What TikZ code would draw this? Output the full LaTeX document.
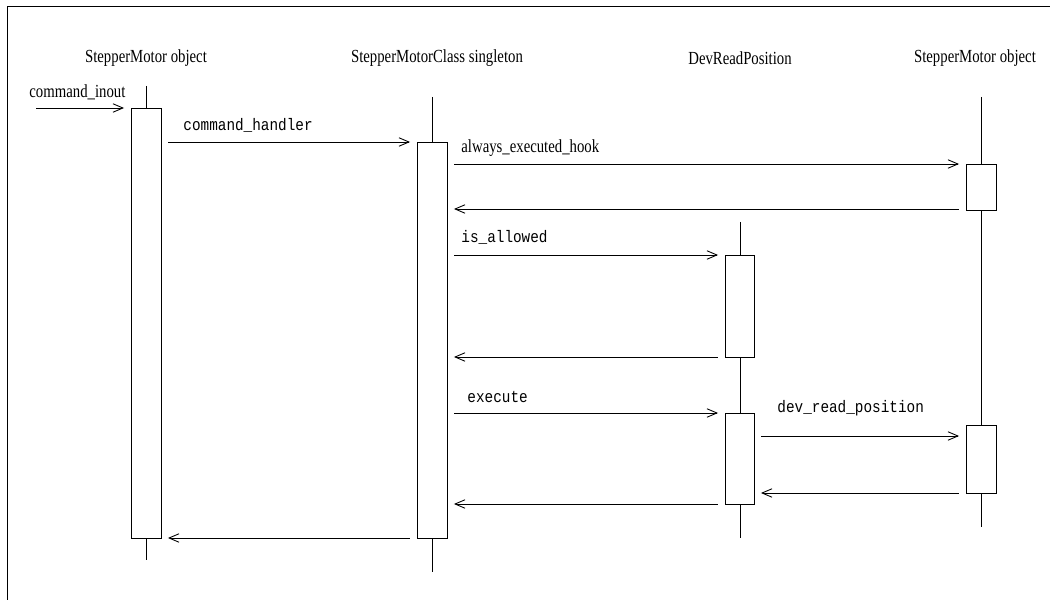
\documentclass[tikz,border=0pt]{standalone}
\usepackage{fontspec}
\setmainfont[FakeStretch=0.8]{Liberation Serif}
\setmonofont[FakeStretch=0.86]{Liberation Mono}
\usetikzlibrary{arrows.meta,fit}

\begin{document}
\begin{tikzpicture}[x=0.2mm,y=-0.2mm,line width=0.5pt,
    >={Straight Barb[length=2mm,width=1.7mm]},
    act/.style={draw,fill=white,inner sep=0pt},
    msg/.style={->,shorten <=1.4mm,shorten >=1.3mm},
    obj/.style={inner sep=0pt,font=\fontsize{10.5}{12}\selectfont},
    lbl/.style={anchor=west,inner sep=0pt,font=\fontsize{10.5}{12}\selectfont},
    code/.style={anchor=west,inner sep=0pt,font=\ttfamily\fontsize{9.5}{11}\selectfont}]
    \useasboundingbox (0,0) rectangle (1050,600);
    % frame
    \draw (1060,6) -- (7,6) -- (7,610);
    % objects
    \node[obj] (hdr1) at (146,58) {StepperMotor object};
    \node[obj] (hdr2) at (437,58) {StepperMotorClass singleton};
    \node[obj] (hdr3) at (740,58) {DevReadPosition};
    \node[obj] (hdr4) at (975,58) {StepperMotor object};
    % lifelines
    \draw (146,86) -- (146,560);
    \draw (432,97) -- (432,572);
    \draw (740,222) -- (740,538);
    \draw (981,97) -- (981,527);
    % activations
    \node[act,fit={(131,108) (161,538)}] (act1) {};
    \node[act,fit={(417,142) (447,538)}] (act2) {};
    \node[act,fit={(725,255) (754,357)}] (act3a) {};
    \node[act,fit={(725,413) (754,504)}] (act3b) {};
    \node[act,fit={(966,164) (996,210)}] (act4a) {};
    \node[act,fit={(966,425) (996,493)}] (act4b) {};
    % message rows
    \coordinate (src) at (36,108);
    \coordinate (m2) at (0,142);
    \coordinate (m3) at (0,164);
    \coordinate (m4) at (0,209);
    \coordinate (m5) at (0,255);
    \coordinate (m6) at (0,357);
    \coordinate (m7) at (0,413);
    \coordinate (m8) at (0,436);
    \coordinate (m9) at (0,493);
    \coordinate (m10) at (0,504);
    \coordinate (m11) at (0,538);
    % messages
    \draw[->,shorten >=1.3mm] (src) -- (act1.west |- src);
    \draw[msg] (act1.east |- m2) -- (act2.west |- m2);
    \draw[msg] (act2.east |- m3) -- (act4a.west |- m3);
    \draw[msg] (act4a.west |- m4) -- (act2.east |- m4);
    \draw[msg] (act2.east |- m5) -- (act3a.west |- m5);
    \draw[msg] (act3a.west |- m6) -- (act2.east |- m6);
    \draw[msg] (act2.east |- m7) -- (act3b.west |- m7);
    \draw[msg] (act3b.east |- m8) -- (act4b.west |- m8);
    \draw[msg] (act4b.west |- m9) -- (act3b.east |- m9);
    \draw[msg] (act3b.west |- m10) -- (act2.east |- m10);
    \draw[msg] (act2.west |- m11) -- (act1.east |- m11);
    % labels
    \node[lbl] (l1) at (29,92) {command\_inout};
    \node[code] (l2) at (183,125) {command\_handler};
    \node[lbl] (l3) at (461,148) {always\_executed\_hook};
    \node[code] (l5) at (461,237) {is\_allowed};
    \node[code] (l7) at (467,397) {execute};
    \node[code] (l8) at (777,408) {dev\_read\_position};
\end{tikzpicture}
\end{document}
